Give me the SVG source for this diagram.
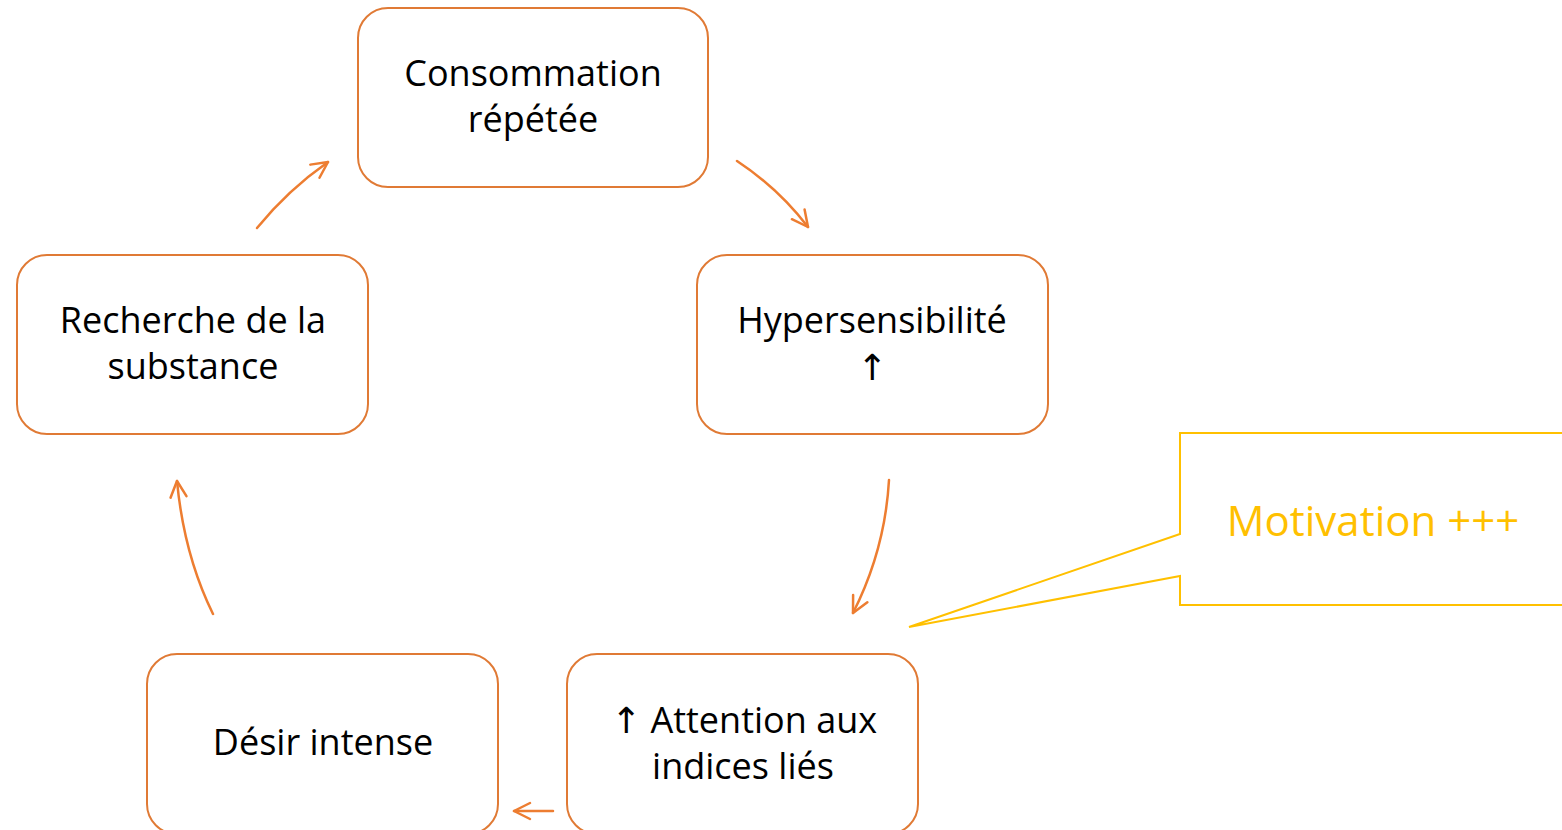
<svg xmlns="http://www.w3.org/2000/svg" width="1562" height="830" viewBox="0 0 1562 830">
<style>
.box{fill:#fff;stroke:#E07A35;stroke-width:2}
.t{font-family:"Open Sans","Noto Sans","DejaVu Sans",sans-serif;font-size:36px;fill:#000;text-anchor:middle}
.c{fill:none;stroke:#ED7D31;stroke-width:2.5;stroke-linecap:round}
</style>
<defs>
<marker id="ah" viewBox="0 0 20 20" refX="18" refY="10" markerWidth="20" markerHeight="20" markerUnits="userSpaceOnUse" orient="auto">
<path d="M2,2 L18,10 L2,18" fill="none" stroke="#ED7D31" stroke-width="2.5" stroke-linecap="round" stroke-linejoin="round"/>
</marker>
</defs>
<rect width="1562" height="830" fill="#fff"/>
<g id="connectors">
<path class="c" d="M257,228 Q288,190 328,162" marker-end="url(#ah)"/>
<path class="c" d="M737,161 Q778,188 808,227" marker-end="url(#ah)"/>
<path class="c" d="M889,480 Q885,550 853,613" marker-end="url(#ah)"/>
<path class="c" d="M553,811 L514,811" marker-end="url(#ah)"/>
<path class="c" d="M213,614 Q184,555 177,481" marker-end="url(#ah)"/>
</g>
<g id="n1"><rect class="box" x="358" y="8" width="350" height="179" rx="30"/>
<text class="t" x="533" y="86">Consommation</text><text class="t" x="533" y="132">répétée</text></g>
<g id="n2"><rect class="box" x="697" y="255" width="351" height="179" rx="30"/>
<text class="t" x="872" y="333">Hypersensibilité</text><text class="t" x="872" y="380">↑</text></g>
<g id="n3"><rect class="box" x="567" y="654" width="351" height="180" rx="30"/>
<text class="t" x="744" y="733">↑ Attention aux</text><text class="t" x="743" y="779">indices liés</text></g>
<g id="n4"><rect class="box" x="147" y="654" width="351" height="180" rx="30"/>
<text class="t" x="323" y="755">Désir intense</text></g>
<g id="n5"><rect class="box" x="17" y="255" width="351" height="179" rx="30"/>
<text class="t" x="193" y="333">Recherche de la</text><text class="t" x="193" y="379">substance</text></g>
<g id="callout">
<path d="M1580,433 L1180,433 L1180,534 L909,627 L1180,576 L1180,605 L1580,605" fill="#fff" stroke="#FFC000" stroke-width="2" stroke-linejoin="miter"/>
<text x="1373" y="536" style="font-family:'Open Sans','Noto Sans',sans-serif;font-size:42px;fill:#FFC000;text-anchor:middle">Motivation +++</text>
</g>
</svg>
